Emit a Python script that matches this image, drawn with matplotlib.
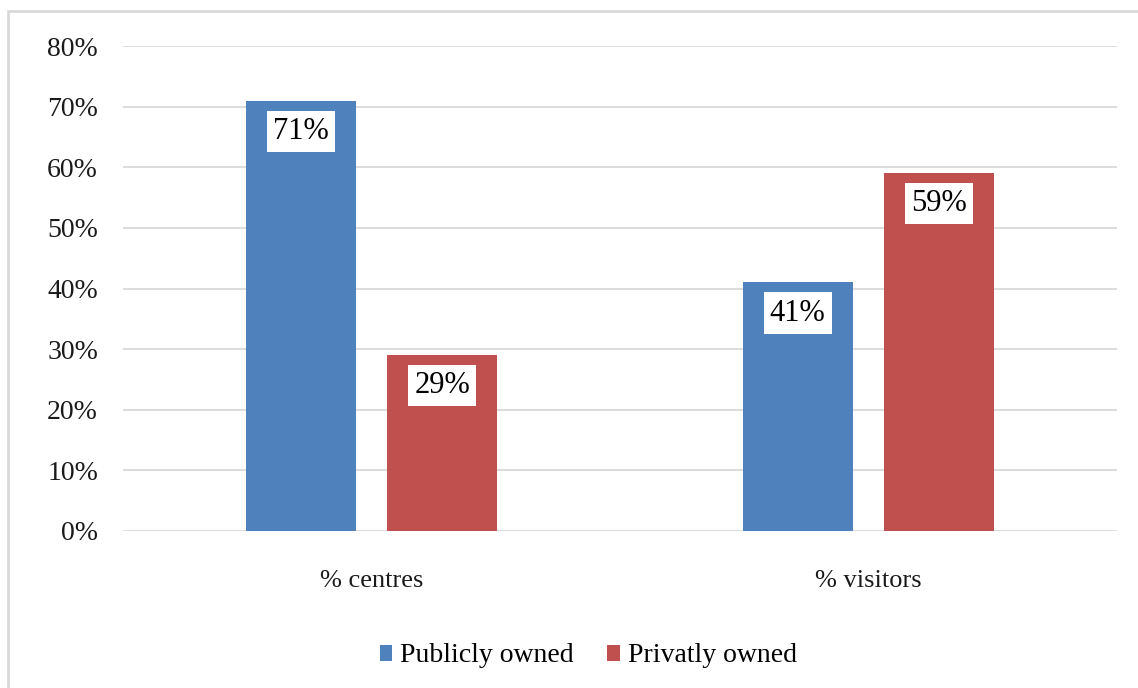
import matplotlib.pyplot as plt
from matplotlib.patches import Rectangle
import numpy as np

categories = ["% centres", "% visitors"]
series = ["Publicly owned", "Privatly owned"]
public_vals = [71, 41]
private_vals = [29, 59]
yticks = [0, 10, 20, 30, 40, 50, 60, 70, 80]

colors = ["#4f81bd", "#c0504d"]
grid_color = "#d9d9d9"

plt.rcParams["font.family"] = ["Liberation Serif", "DejaVu Serif"]

fig = plt.figure(figsize=(11.38, 6.88), dpi=100)
ax = fig.add_axes([0.1081, 0.2282, 0.8735, 0.7049])

x = np.arange(len(categories))
width = 0.221
offset = 0.1425

for i, (vals, col, name) in enumerate(zip([public_vals, private_vals], colors, series)):
    pos = x + (-offset if i == 0 else offset)
    ax.bar(pos, vals, width, color=col, label=name, zorder=3)
    # value labels sit in a white box just under the top of each bar
    for px, v in zip(pos, vals):
        ax.annotate(f"{v}%", xy=(px, v), xytext=(0, -22), textcoords="offset points",
                    ha="center", va="center", fontsize=22, color="black",
                    bbox=dict(boxstyle="square,pad=0.2", fc="white", ec="none"),
                    zorder=4)

ax.set_xlim(-0.5, 1.5)
ax.set_ylim(0, 80)
ax.set_yticks(yticks)
ax.set_yticklabels([f"{t}%" for t in yticks], fontsize=20)
ax.set_xticks(x)
ax.set_xticklabels(categories, fontsize=19)
ax.tick_params(axis="both", length=0, colors="#1a1a1a")
ax.tick_params(axis="y", pad=18)
ax.tick_params(axis="x", pad=28)
ax.yaxis.grid(True, color=grid_color, linewidth=1.3, zorder=0)
ax.set_axisbelow(True)
for s in ax.spines.values():
    s.set_visible(False)

# outer chart frame (clipped at right and bottom)
fig.patches.append(Rectangle((8 / 1138, -0.2), 1.2, 0.2 + 1 - 11 / 688,
                             transform=fig.transFigure, fill=False,
                             edgecolor=grid_color, linewidth=2))

fig.legend(loc="center", bbox_to_anchor=(0.517, 1 - 656 / 688), ncol=2,
           frameon=False, fontsize=20, handlelength=0.45, handleheight=0.5,
           handletextpad=0.3, columnspacing=1.2)

fig.savefig("out.png", dpi=100, facecolor="white")
